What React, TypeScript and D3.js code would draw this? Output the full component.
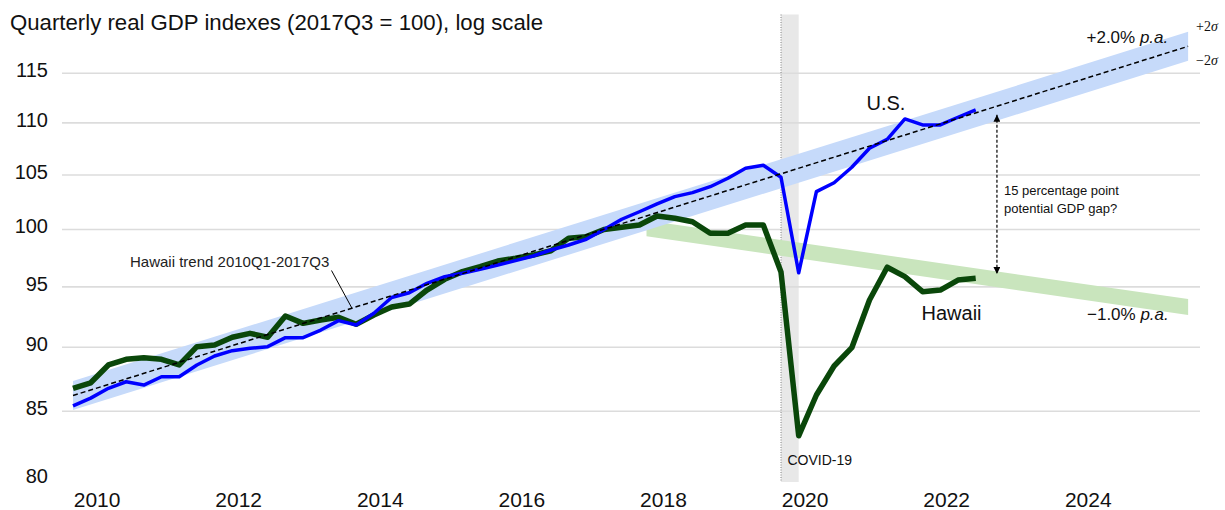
import React from 'react';
import * as d3 from 'd3';

// Quarterly observations 2010Q1 .. 2022Q4 (decimal years)
const quarters: number[] = d3.range(52).map((i) => 2010 + i / 4);

const usIndex: number[] = [
  85.4, 86.0, 86.76, 87.27, 87.01, 87.66, 87.66, 88.59, 89.3, 89.73, 89.92, 90.05,
  90.78, 90.78, 91.4, 92.17, 91.81, 92.78, 94.1, 94.5, 95.3, 95.87, 96.16, 96.5,
  96.87, 97.25, 97.66, 98.18, 98.62, 99.13, 100.0, 100.92, 101.6, 102.31, 102.98, 103.35,
  103.9, 104.69, 105.63, 105.91, 104.78, 96.2, 103.44, 104.27, 105.72, 107.53, 108.4, 110.39,
  109.8, 109.8, 110.56, 111.28,
];

const hawaiiIndex: number[] = [
  86.76, 87.19, 88.59, 89.04, 89.17, 89.04, 88.59, 90.05, 90.18, 90.81, 91.13, 90.81,
  92.55, 91.95, 92.22, 92.45, 91.87, 92.64, 93.3, 93.55, 94.73, 95.64, 96.3, 96.73,
  97.22, 97.46, 97.74, 98.12, 99.22, 99.36, 100.0, 100.2, 100.4, 101.22, 101.01, 100.7,
  99.66, 99.66, 100.4, 100.4, 96.27, 83.15, 86.24, 88.51, 89.97, 93.89, 96.68, 95.87,
  94.59, 94.73, 95.58, 95.73,
];

const yTicks: number[] = [80, 85, 90, 95, 100, 105, 110, 115];
const gridValues: number[] = [85, 90, 95, 100, 105, 110, 115];
const xTickYears: number[] = [2010, 2012, 2014, 2016, 2018, 2020, 2022, 2024];

// Hawaii trend 2010Q1-2017Q3 (+2.0% p.a.) endpoints and ±2σ factor
const trendT: number[] = [2010.0, 2025.75];
const trendV: number[] = [86.2, 117.8];
const trendSigma = 1.013;

// Post-2018 Hawaii path (−1.0% p.a.) endpoints and half-width factor
const declineT: number[] = [2018.1, 2025.75];
const declineV: number[] = [100.1, 93.3];
const declineHalf = 1.0071;

const covidSpan: number[] = [2020.0, 2020.25];
const gapT = 2023.05;
const gapValues: number[] = [110.8, 96.1];
const leaderT = 2013.94;

const FONT = 'Liberation Sans, Arial, Helvetica, sans-serif';

export default function App() {
  const W = 1225;
  const H = 510;
  const x = d3.scaleLinear().domain([2010, 2020]).range([73, 781]);
  const y = d3.scaleLog().domain([80, 121.2]).range([479, 14.5]);

  const line = d3
    .line<number>()
    .x((_, i) => x(quarters[i]))
    .y((d) => y(d));

  const bandArea = d3
    .area<number>()
    .x((_, i) => x(trendT[i]))
    .y0((d) => y(d / trendSigma))
    .y1((d) => y(d * trendSigma));

  const declineArea = d3
    .area<number>()
    .x((_, i) => x(declineT[i]))
    .y0((d) => y(d / declineHalf))
    .y1((d) => y(d * declineHalf));

  const trendAt = (t: number) =>
    trendV[0] * Math.pow(trendV[1] / trendV[0], (t - trendT[0]) / (trendT[1] - trendT[0]));

  const leaderEndX = x(leaderT);
  const leaderEndY = y(trendAt(leaderT));

  return (
    <svg
      width={W}
      height={H}
      style={{ position: 'absolute', left: 0, top: 0, background: '#fff' }}
      fontFamily={FONT}
    >
      <defs>
        <marker id="arrHead" viewBox="0 0 10 10" refX="10" refY="5" markerWidth="7" markerHeight="7" orient="auto-start-reverse" markerUnits="userSpaceOnUse">
          <path d="M0,0 L10,5 L0,10 z" fill="#000" />
        </marker>
      </defs>
      <rect x={0} y={0} width={W} height={H} fill="#fff" />

      {/* COVID band */}
      <rect
        x={x(covidSpan[0])}
        y={y(121.2)}
        width={x(covidSpan[1]) - x(covidSpan[0])}
        height={y(80) + 3 - y(121.2)}
        fill="#e8e8e8"
      />

      {/* gridlines */}
      {gridValues.map((v) => (
        <line key={v} x1={62} x2={1200} y1={y(v)} y2={y(v)} stroke="#dcdcdc" strokeWidth={1.6} />
      ))}

      <line
        x1={x(covidSpan[0])}
        x2={x(covidSpan[0])}
        y1={y(121.2)}
        y2={y(80) + 3}
        stroke="#808080"
        strokeWidth={1}
        strokeDasharray="1,1.5"
      />

      {/* bands */}
      <path d={declineArea(declineV) || ''} fill="#c9e5bd" />
      <path d={bandArea(trendV) || ''} fill="#c6dafa" />

      {/* series */}
      <path d={line(hawaiiIndex) || ''} fill="none" stroke="#0a470a" strokeWidth={5.5} strokeLinejoin="round" />
      <path d={line(usIndex) || ''} fill="none" stroke="#0000ff" strokeWidth={3.5} strokeLinejoin="round" />

      {/* trend dashed line */}
      <line
        x1={x(trendT[0])}
        y1={y(trendV[0])}
        x2={x(trendT[1])}
        y2={y(trendV[1])}
        stroke="#000"
        strokeWidth={1.5}
        strokeDasharray="5,3"
      />

      {/* gap arrow */}
      <line
        x1={x(gapT)}
        x2={x(gapT)}
        y1={y(gapValues[0])}
        y2={y(gapValues[1])}
        stroke="#000"
        strokeWidth={1.2}
        strokeDasharray="3,2"
        markerStart="url(#arrHead)"
        markerEnd="url(#arrHead)"
      />

      {/* leader line */}
      <line x1={331.5} y1={270.5} x2={leaderEndX} y2={leaderEndY} stroke="#000" strokeWidth={1} />

      {/* y axis labels */}
      {yTicks.map((v) => (
        <text key={v} x={48} y={y(v) + 3.7} textAnchor="end" fontSize={20} fill="#111">
          {v}
        </text>
      ))}

      {/* x axis labels */}
      {xTickYears.map((yr) => (
        <text key={yr} x={x(yr + 0.34)} y={507.3} textAnchor="middle" fontSize={21} fill="#111">
          {yr}
        </text>
      ))}

      {/* title */}
      <text x={10} y={29.5} fontSize={22.2} fill="#111">
        Quarterly real GDP indexes (2017Q3 = 100), log scale
      </text>

      {/* annotations */}
      <text x={866.5} y={110} fontSize={20} fill="#111">U.S.</text>
      <text x={921.5} y={320} fontSize={20} fill="#111">Hawaii</text>
      <text x={1087} y={320} fontSize={17} fill="#111">
        −1.0% <tspan fontStyle="italic">p.a.</tspan>
      </text>
      <text x={1086.5} y={42.7} fontSize={17} fill="#111">
        +2.0% <tspan fontStyle="italic">p.a.</tspan>
      </text>
      <text x={1196} y={31} fontSize={14} fill="#111" fontFamily="Liberation Serif, Times New Roman, serif">
        +2<tspan fontStyle="italic">σ</tspan>
      </text>
      <text x={1196} y={65} fontSize={14} fill="#111" fontFamily="Liberation Serif, Times New Roman, serif">
        −2<tspan fontStyle="italic">σ</tspan>
      </text>
      <text x={130} y={267.3} fontSize={15} fill="#222">Hawaii trend 2010Q1-2017Q3</text>
      <text x={1004} y={195} fontSize={13} fill="#111">15 percentage point</text>
      <text x={1004} y={213} fontSize={13} fill="#111">potential GDP gap?</text>
      <text x={787.5} y={465} fontSize={14} fill="#111">COVID-19</text>
    </svg>
  );
}
